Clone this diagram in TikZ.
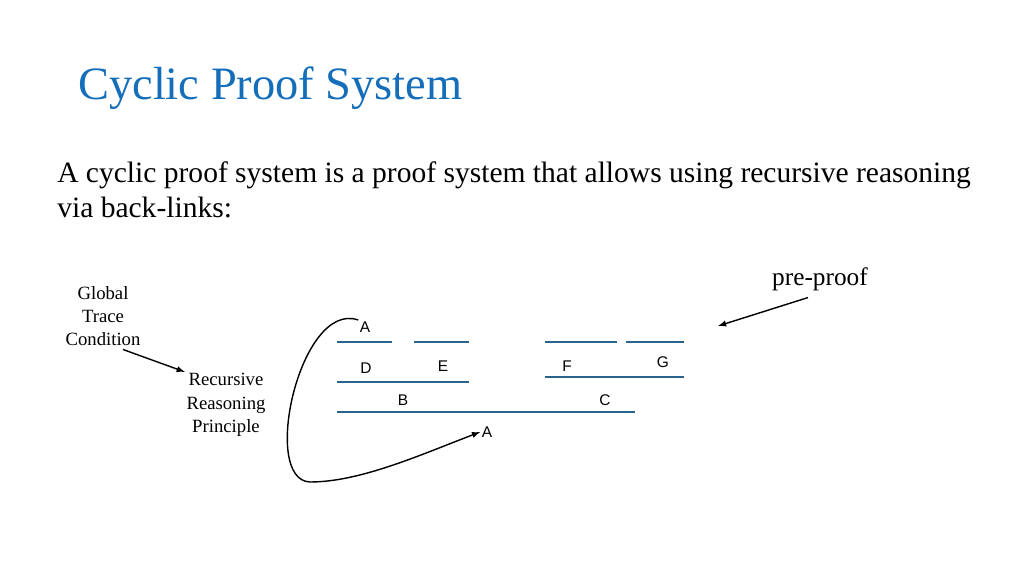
\documentclass[tikz,border=0pt]{standalone}
\usepackage{fontspec}
\setmainfont{Liberation Serif}
\newfontfamily\letterfont{Liberation Sans}
\usetikzlibrary{arrows}
\definecolor{titleblue}{RGB}{20,110,185}
\definecolor{ruleblue}{RGB}{40,100,140}
\tikzset{
  rule/.style={draw=ruleblue,line width=1pt},
  formula/.style={font=\letterfont\fontsize{11}{13}\selectfont,inner sep=1pt},
  note/.style={font=\fontsize{13.3}{16.5}\selectfont,align=center,inner sep=1pt},
  pointer/.style={-latex,line width=1pt}
}
\begin{document}
\begin{tikzpicture}[x=0.025cm,y=-0.025cm]
\useasboundingbox (0,0) rectangle (1024,576);
\node[anchor=west,text=titleblue,font=\fontsize{33}{38}\selectfont,inner sep=0pt] (title) at (78,88) {Cyclic Proof System};
\node[anchor=north west,align=left,font=\fontsize{21}{25}\selectfont,inner sep=0pt] (body) at (57,161)
  {A cyclic proof system is a proof system that allows using recursive reasoning\\via back-links:};

% inference lines
\draw[rule] (337,342) -- (392,342);
\draw[rule] (414,342) -- (469,342);
\draw[rule] (545,342) -- (617,342);
\draw[rule] (626,342) -- (684,342);
\draw[rule] (337,382) -- (469,382);
\draw[rule] (545,377) -- (684,377);
\draw[rule] (337,412) -- (635,412);

% formulas
\node[formula] (a1) at (365,327) {A};
\node[formula] (d) at (366,368) {D};
\node[formula] (e) at (443,366) {E};
\node[formula] (f) at (567,366) {F};
\node[formula] (g) at (663,362) {G};
\node[formula] (b) at (403,400) {B};
\node[formula] (c) at (605,400) {C};
\node[formula] (a2) at (487,432) {A};

% labels
\node[note] (gtc) at (103,316) {Global\\Trace\\Condition};
\node[note] (rrp) at (226,405) {Recursive\\Reasoning\\Principle};
\node[font=\fontsize{18}{21}\selectfont] (pre) at (820,279) {pre-proof};

% back-link and pointers
\draw[pointer] (a1.north west) .. controls (300,300) and (260,480) .. (310,482)
  .. controls (360,482) and (420,455) .. (a2.west);
\draw[pointer] (gtc.south) ++(20,2) coordinate (g0) -- (rrp.north west);
\draw[pointer] (pre.south) ++(-12,2) coordinate (p0) -- (718,326);
\end{tikzpicture}
\end{document}
